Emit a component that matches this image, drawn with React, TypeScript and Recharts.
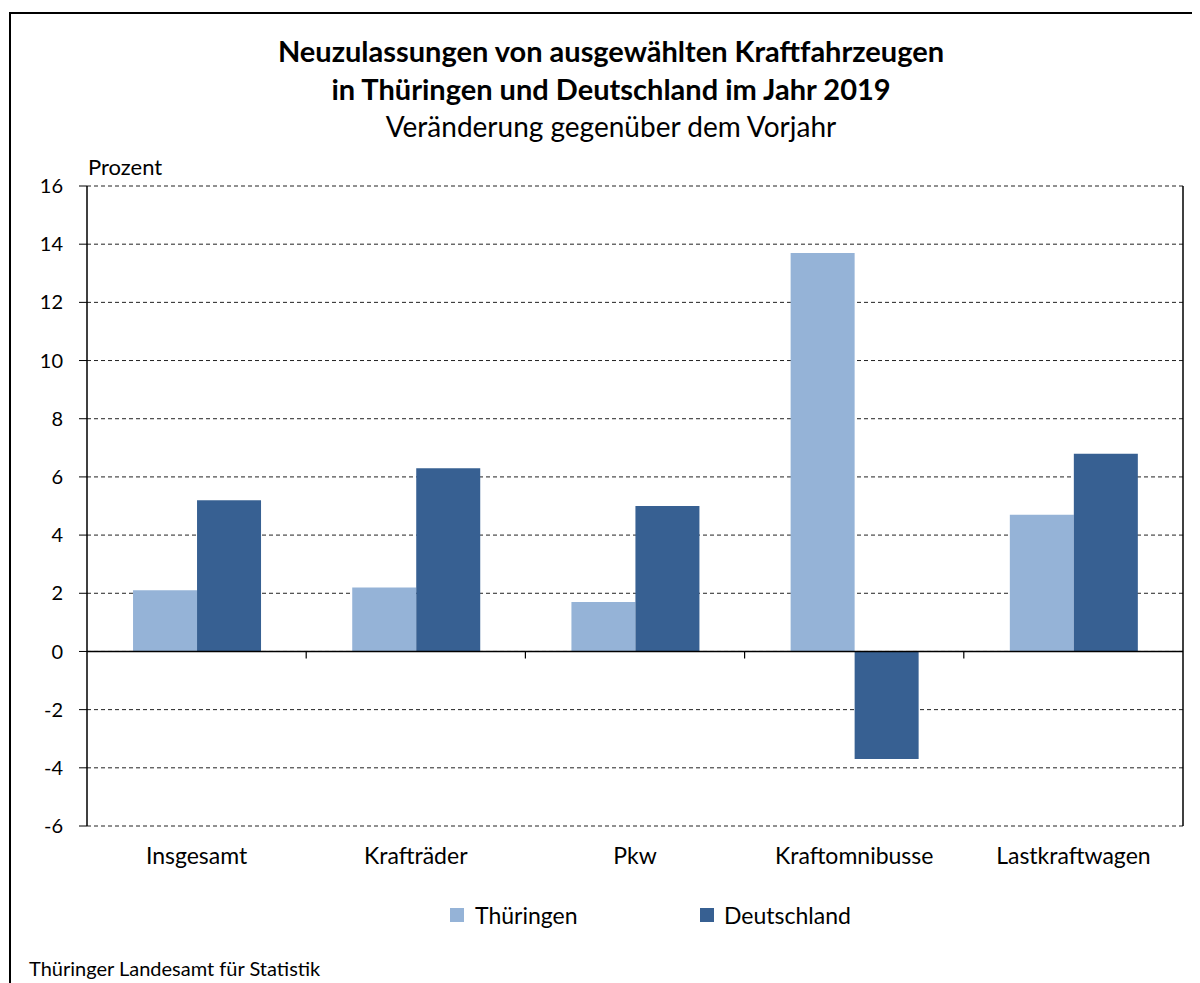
import { Bar, BarChart, CartesianGrid, ReferenceLine, XAxis, YAxis } from 'recharts';

const categories = ['Insgesamt', 'Krafträder', 'Pkw', 'Kraftomnibusse', 'Lastkraftwagen'];
const thueringen = [2.1, 2.2, 1.7, 13.7, 4.7];
const deutschland = [5.2, 6.3, 5.0, -3.7, 6.8];
const yTicks = [-6, -4, -2, 0, 2, 4, 6, 8, 10, 12, 14, 16];

const LIGHT = '#95b3d7';
const DARK = '#376092';
const FONT = 'Lato, "Noto Sans", sans-serif';

const data = categories.map((name, i) => ({
  name,
  thueringen: thueringen[i],
  deutschland: deutschland[i],
}));

// zero line with small tick marks at the category boundaries
function ZeroAxis(props: any) {
  const { x1, x2, y1 } = props;
  const step = (x2 - x1) / categories.length;
  const marks = [];
  for (let i = 1; i < categories.length; i++) {
    const x = x1 + step * i;
    marks.push(<line key={i} x1={x} x2={x} y1={y1} y2={y1 + 7} stroke="#000" strokeWidth={1.2} />);
  }
  return (
    <g>
      <line x1={x1} x2={x2} y1={y1} y2={y1} stroke="#000" strokeWidth={1.5} />
      {marks}
    </g>
  );
}

export default function App() {
  return (
    <div style={{ position: 'relative', width: 1200, height: 983, margin: '-8px 0 0 -8px', overflow: 'hidden', background: '#fff', fontFamily: FONT, color: '#000' }}>
      <div style={{ position: 'absolute', left: 9, top: 12, width: 1300, height: 1100, borderLeft: '2px solid #000', borderTop: '2px solid #000' }} />
      <div style={{ position: 'absolute', left: 0, width: 1222, top: 32, textAlign: 'center', fontSize: 29, fontWeight: 700, lineHeight: '38px' }}>
        Neuzulassungen von ausgewählten Kraftfahrzeugen
        <br />
        in Thüringen und Deutschland im Jahr 2019
      </div>
      <div style={{ position: 'absolute', left: 0, width: 1222, top: 110, textAlign: 'center', fontSize: 28, lineHeight: '32px' }}>
        Veränderung gegenüber dem Vorjahr
      </div>
      <div style={{ position: 'absolute', left: 88, top: 154, fontSize: 22, lineHeight: '26px' }}>Prozent</div>

      <div style={{ position: 'absolute', left: 0, top: 0 }}>
        <BarChart
          width={1200}
          height={983}
          data={data}
          margin={{ top: 186, right: 16, left: 0, bottom: 117 }}
          barCategoryGap="21%"
          barGap={0}
        >
          <CartesianGrid vertical={false} stroke="#222" strokeDasharray="4 3" />
          <XAxis
            dataKey="name"
            axisLine={false}
            tickLine={false}
            height={40}
            tickMargin={16}
            tick={{ fontSize: 23, fill: '#000', fontFamily: FONT }}
          />
          <YAxis
            width={87}
            domain={[-6, 16]}
            ticks={yTicks}
            interval={0}
            axisLine={{ stroke: '#000', strokeWidth: 1.5 }}
            tickLine={{ stroke: '#000' }}
            tickSize={8}
            tickMargin={16}
            tick={{ fontSize: 20, fill: '#000', fontFamily: FONT }}
          />
          <YAxis
            yAxisId="right"
            orientation="right"
            width={1}
            domain={[-6, 16]}
            tick={false}
            tickLine={false}
            axisLine={{ stroke: '#000', strokeWidth: 1.5 }}
          />
          <Bar dataKey="thueringen" name="Thüringen" fill={LIGHT} isAnimationActive={false} />
          <Bar dataKey="deutschland" name="Deutschland" fill={DARK} isAnimationActive={false} />
          <ReferenceLine y={0} shape={ZeroAxis} />
        </BarChart>
      </div>

      <div style={{ position: 'absolute', left: 450, top: 901, display: 'flex', alignItems: 'center', fontSize: 23, lineHeight: '28px' }}>
        <span style={{ display: 'inline-block', width: 14, height: 14, background: LIGHT, marginRight: 11 }} />
        Thüringen
      </div>
      <div style={{ position: 'absolute', left: 700, top: 901, display: 'flex', alignItems: 'center', fontSize: 23, lineHeight: '28px' }}>
        <span style={{ display: 'inline-block', width: 14, height: 14, background: DARK, marginRight: 10 }} />
        Deutschland
      </div>
      <div style={{ position: 'absolute', left: 29, top: 955, fontSize: 20, lineHeight: '26px' }}>
        Thüringer Landesamt für Statistik
      </div>
    </div>
  );
}
